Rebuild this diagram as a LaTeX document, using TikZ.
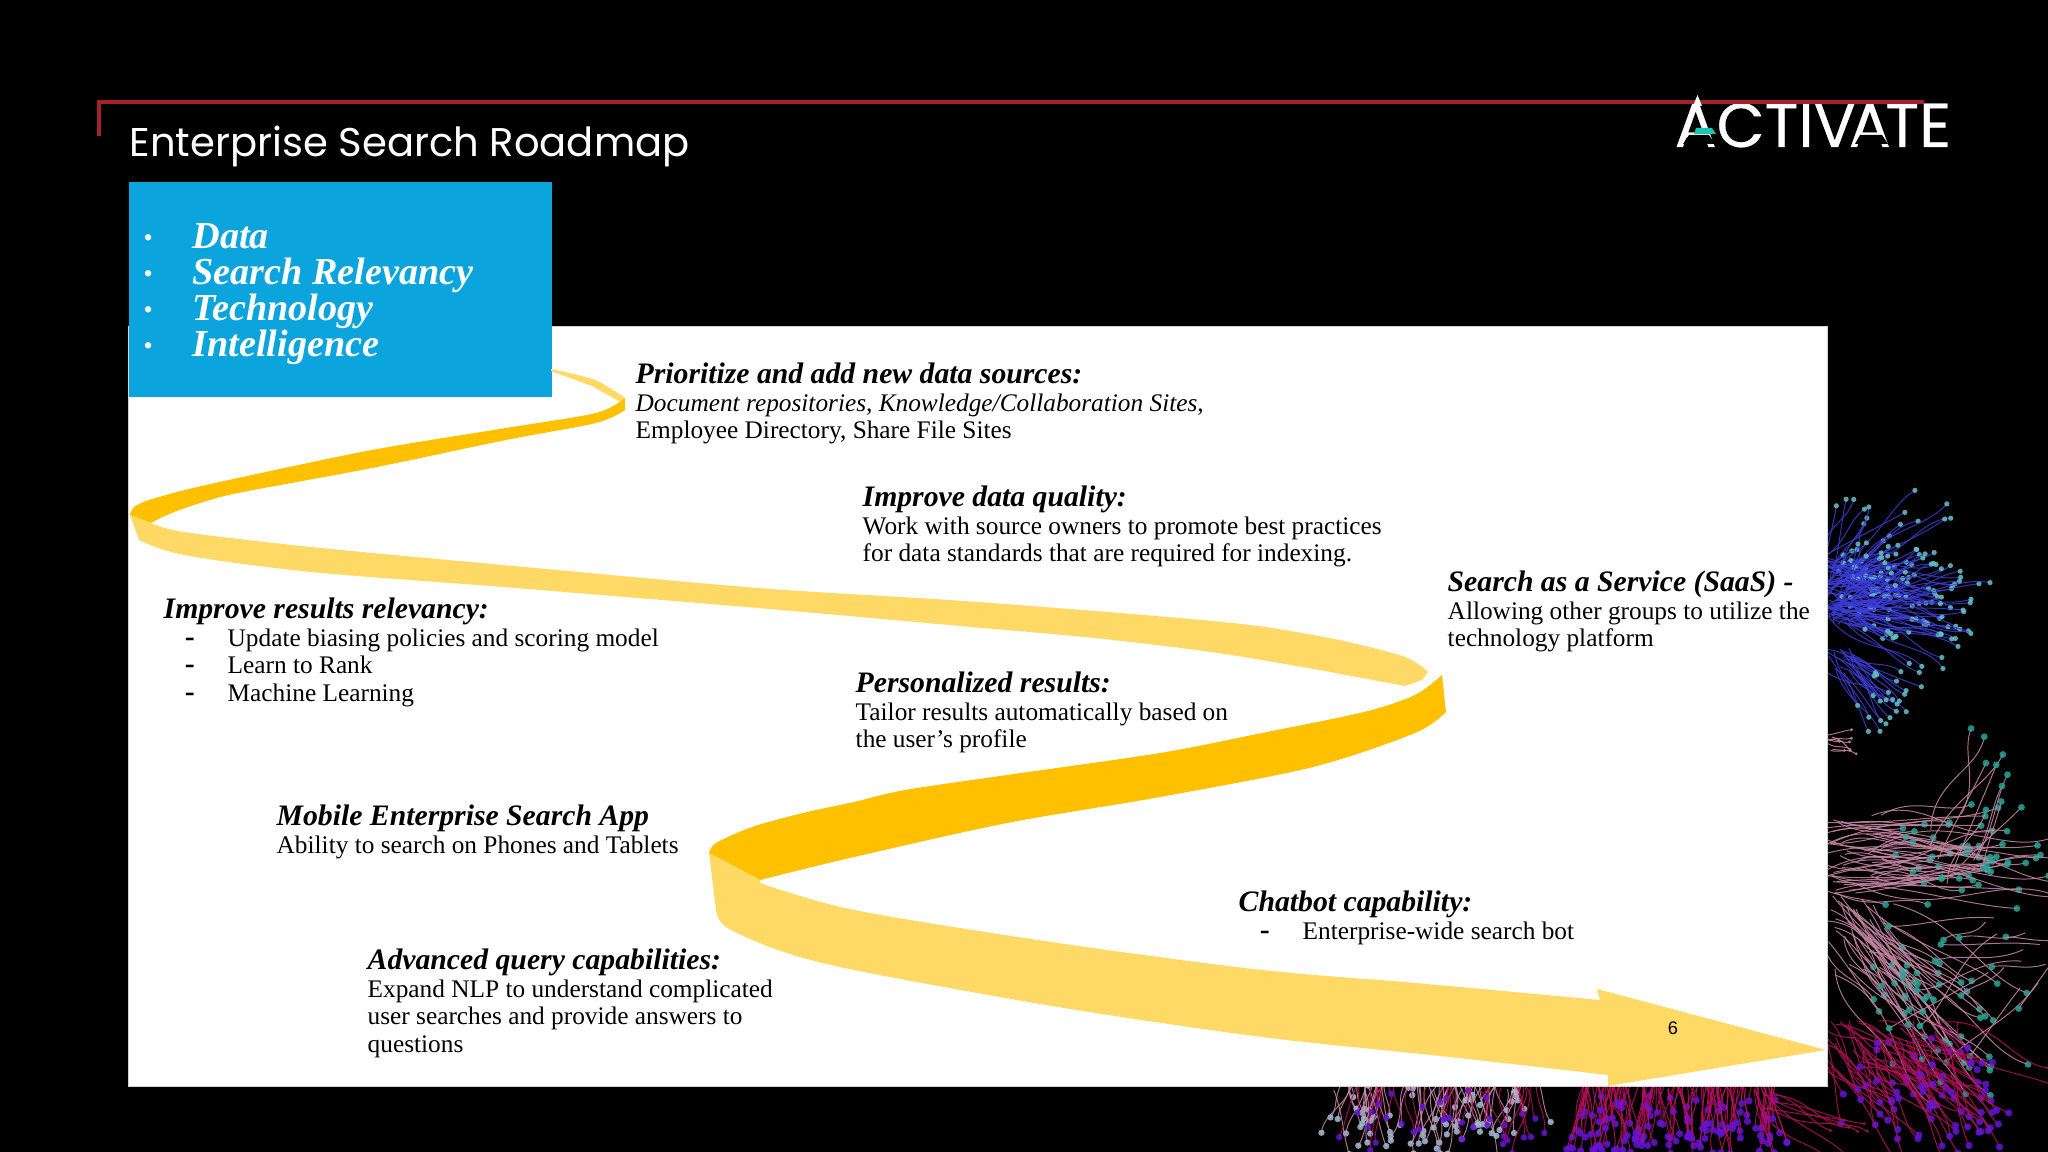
\documentclass[tikz,border=0pt]{standalone}
\usepackage{fontspec}
\setmainfont{Liberation Serif}
\newfontfamily\titlefont{Poppins}
\newfontfamily\logofont[FakeBold=0.5]{Poppins}
\newfontfamily\pagefont{Liberation Sans}
\usepackage{xcolor}
\usetikzlibrary{positioning}

\tikzset{
  fibre/.style={line width=0.28pt,opacity=0.85},
  notetext/.style={anchor=north west,align=left,inner sep=0pt,text=black,font=\fontsize{7.2}{7.9}\selectfont},
  ribbondark/.style={fill=ribbongold},
  ribbonlight/.style={fill=ribbonpale}
}
\newcommand{\notehead}[1]{{\fontsize{8.45}{7.9}\selectfont\bfseries\itshape #1}}
\newcommand{\dashitem}[1]{\hspace*{6pt}\makebox[12.2pt][l]{\fontsize{8.5}{8}\selectfont\textbf{-}}#1}
\newcommand{\focusitem}[1]{\makebox[13.9pt][l]{\normalfont\fontsize{7.5}{8}\selectfont\raisebox{0.6pt}{\textbullet}}#1}
% root x, root y, count, angle from, angle to, length from, length to, line colour, dot colour
% spread of the roots and dot radius are set with \fibreset
\newcommand{\fibredot}{2.3}
\newcommand{\spreadx}{10}
\newcommand{\spready}{10}
\newcommand{\fibreset}[3]{\renewcommand{\spreadx}{#1}\renewcommand{\spready}{#2}\renewcommand{\fibredot}{#3}}
\newcommand{\fibretree}[9]{%
  \foreach \i in {1,...,#3}{
    \pgfmathsetmacro\ang{#4+rnd*(#5-#4)}
    \pgfmathsetmacro\len{#6+rnd*(#7-#6)}
    \pgfmathsetmacro\wob{(rnd-0.5)*0.5*\len}
    \pgfmathsetmacro\rootx{#1+rand*\spreadx}
    \pgfmathsetmacro\rooty{#2+rand*\spready}
    \pgfmathsetmacro\endx{\rootx+\len*cos(\ang)}
    \pgfmathsetmacro\endy{\rooty+\len*sin(\ang)}
    \draw[fibre,#8] (\rootx,\rooty) .. controls ({\rootx+0.4*\len*cos(\ang)-\wob*sin(\ang)},{\rooty+0.4*\len*sin(\ang)+\wob*cos(\ang)})
      and ({\rootx+0.7*\len*cos(\ang)+0.5*\wob*sin(\ang)},{\rooty+0.7*\len*sin(\ang)-0.5*\wob*cos(\ang)}) .. (\endx,\endy);
    \fill[#9,opacity=0.85] (\endx,\endy) circle[radius=\fibredot];
  }%
}

\begin{document}
\begin{tikzpicture}[x=0.01cm,y=-0.01cm]
% Define colors
\definecolor{ribbongold}{RGB}{255,192,0}
\definecolor{ribbonpale}{RGB}{255,217,102}
\definecolor{boxblue}{RGB}{12,164,220}
\definecolor{framered}{RGB}{165,35,40}
\definecolor{logoteal}{RGB}{28,196,180}
\definecolor{fibreblue}{RGB}{60,60,215}
\definecolor{fibrepink}{RGB}{200,135,165}
\definecolor{fibrered}{RGB}{185,15,90}
\definecolor{dotcyan}{RGB}{100,195,200}
\definecolor{dotteal}{RGB}{40,165,150}
\definecolor{dotviolet}{RGB}{100,20,215}
\definecolor{dotpale}{RGB}{165,190,215}

\clip (0,0) rectangle (2048,1152);
\fill[black] (0,0) rectangle (2048,1152);

% Fibres behind the panel
\pgfmathsetseed{4711}
\fibreset{25}{35}{2.6}
\fibretree{1840}{590}{125}{-50}{35}{15}{115}{fibreblue}{dotcyan}
\fibretree{1835}{590}{14}{-80}{-20}{60}{85}{fibreblue}{dotcyan}
\fibreset{15}{15}{2.6}
\fibretree{1840}{660}{24}{15}{70}{30}{90}{fibreblue}{dotcyan}
\fibretree{1835}{610}{12}{-12}{24}{110}{155}{fibreblue}{dotcyan}
\fibreset{8}{10}{1.6}
\fibretree{1830}{745}{8}{-25}{35}{10}{30}{fibrepink}{fibrepink}
\fibreset{35}{40}{3.4}
\fibretree{1850}{855}{60}{-12}{14}{60}{200}{fibrepink}{dotteal}
\fibretree{1860}{935}{55}{30}{62}{50}{170}{fibrepink}{dotteal}
\fibretree{1960}{850}{10}{-85}{-40}{60}{120}{fibrepink}{dotteal}
\fibretree{2020}{950}{14}{120}{200}{40}{130}{fibrepink}{dotteal}
\fibreset{70}{30}{3.6}
\fibretree{1890}{1050}{85}{15}{80}{40}{120}{fibrered}{dotviolet}
\fibreset{100}{10}{3.6}
\fibretree{1680}{1080}{130}{70}{110}{20}{80}{fibrered}{dotviolet}
\fibreset{100}{15}{3.2}
\fibretree{1430}{1075}{80}{60}{120}{15}{75}{fibrepink}{dotpale}
\fibretree{1440}{1080}{35}{70}{110}{20}{70}{fibrered}{dotviolet}
\fibreset{10}{10}{1.5}
\fibretree{1760}{1100}{8}{5}{40}{60}{110}{fibrered}{fibrered}

% White panel and blue box
\fill[white,draw=gray!35,line width=0.25pt] (128.5,326) rectangle (1827,1086);
\node[fill=boxblue,minimum width=4.23cm,minimum height=2.15cm,inner sep=0pt,anchor=north west] (focusbox) at (128.5,181) {};

% Ribbon, from the box to the arrow
\fill[ribbonlight] plot[smooth] coordinates {(551,369) (595,380) (625,398)} -- (624,404) -- plot[smooth] coordinates {(592,386) (551,371)} -- cycle;
\fill[ribbondark] plot[smooth] coordinates {(625,398) (596,413) (506,428) (372,450) (238,478) (185,490) (149,500) (134,507) (130,515)}
  -- (151,523)
  -- plot[smooth] coordinates {(151,523) (167,515) (194,505) (238,493) (372,468) (506,440) (596,423) (625,410)} -- cycle;
\fill[ribbonlight] plot[smooth] coordinates {(151,523) (184,532) (311,547) (503,565) (758,588) (949,600) (1120,613) (1250,625) (1339,640) (1405,657) (1428,672)}
  -- (1422,680) -- (1405,686)
  -- plot[smooth] coordinates {(1405,686) (1308,668) (1211,652) (1094,638) (949,625) (758,608) (503,587) (311,572) (184,555) (139,540)}
  -- (130,515) -- cycle;
\fill[ribbondark] (1442,675) -- (1446,712)
  -- plot[smooth] coordinates {(1446,712) (1415,733) (1313,767) (1160,797) (1007,823) (854,857) (760,880)}
  -- (709,853)
  -- plot[smooth] coordinates {(709,853) (716,843) (752,827) (803,813) (854,802) (905,790) (1007,775) (1160,753) (1262,733) (1364,712) (1415,695) (1442,675)} -- cycle;
\fill[ribbonlight] (709,853) -- (760,880)
  -- plot[smooth] coordinates {(760,883) (854,910) (1058,943) (1262,970) (1416,983) (1600,1000)}
  -- (1597,989) -- (1826,1050) -- (1608,1086) -- (1608,1075)
  -- plot[smooth] coordinates {(1608,1075) (1450,1057) (1262,1037) (1058,1007) (854,970) (778,950) (726,927) (716,910)} -- cycle;

% Heading, frame line and logo
\node[anchor=base west,inner sep=0pt,text=white,font=\titlefont\fontsize{11.4}{13}\selectfont] (title) at (129,157) {Enterprise Search Roadmap};
\node[anchor=base west,inner sep=0pt,text=white,font=\logofont\fontsize{17.7}{20}\selectfont] (logo) at (1674,147) {ACTIV\kern-2pt A\kern-1.5pt TE};
\fill[black] (1860,135) -- (1882,135) -- (1888,144) -- (1855,144) -- cycle;
\fill[black] (1689,135) -- (1709,135) -- (1715,144) -- (1683,144) -- cycle;
\fill[logoteal] (1696,128) -- (1712,128) -- (1716,134) -- (1694,134) -- cycle;
\draw[framered,line width=0.9pt] (99,136) -- (99,102) -- (1924,102);
\fill[white] (1697.5,95) -- (1702,106) -- (1693,106) -- cycle;

% Focus list
\node[anchor=north west,align=left,inner sep=0pt,text=white,font=\fontsize{10.86}{10.24}\selectfont\bfseries\itshape] (focuslist) at (143,223)
  {\focusitem{Data}\\ \focusitem{Search Relevancy}\\ \focusitem{Technology}\\ \focusitem{Intelligence}};

% Notes along the ribbon
\node[notetext] (datasources) at (635,362) {\notehead{Prioritize and add new data sources:}\\ \textit{Document repositories, Knowledge/Collaboration Sites}, \\ Employee Directory, Share File Sites};
\node[notetext] (dataquality) at (862,485) {\notehead{Improve data quality:}\\ Work with source owners to promote best practices\\ for data standards that are required for indexing.};
\node[notetext] (saas) at (1447,570) {\notehead{Search as a Service (SaaS) -}\\ Allowing other groups to utilize the\\ technology platform};
\node[notetext] (relevancy) at (163,597) {\notehead{Improve results relevancy:}\\ \dashitem{Update biasing policies and scoring model}\\ \dashitem{Learn to Rank}\\ \dashitem{Machine Learning}};
\node[notetext] (personalized) at (855,671) {\notehead{Personalized results:}\\ Tailor results automatically based on\\ the user’s profile};
\node[notetext] (mobile) at (276,804) {\notehead{Mobile Enterprise Search App}\\ Ability to search on Phones and Tablets};
\node[notetext] (chatbot) at (1238,890) {\notehead{Chatbot capability:}\\ \dashitem{Enterprise-wide search bot}};
\node[notetext] (advanced) at (367,948) {\notehead{Advanced query capabilities:}\\ Expand NLP to understand complicated\\ user searches and provide answers to\\ questions};

% Page number
\node[inner sep=0pt,text=black,font=\pagefont\fontsize{5.2}{6}\selectfont] (pagenum) at (1673,1028) {6};
\end{tikzpicture}
\end{document}
